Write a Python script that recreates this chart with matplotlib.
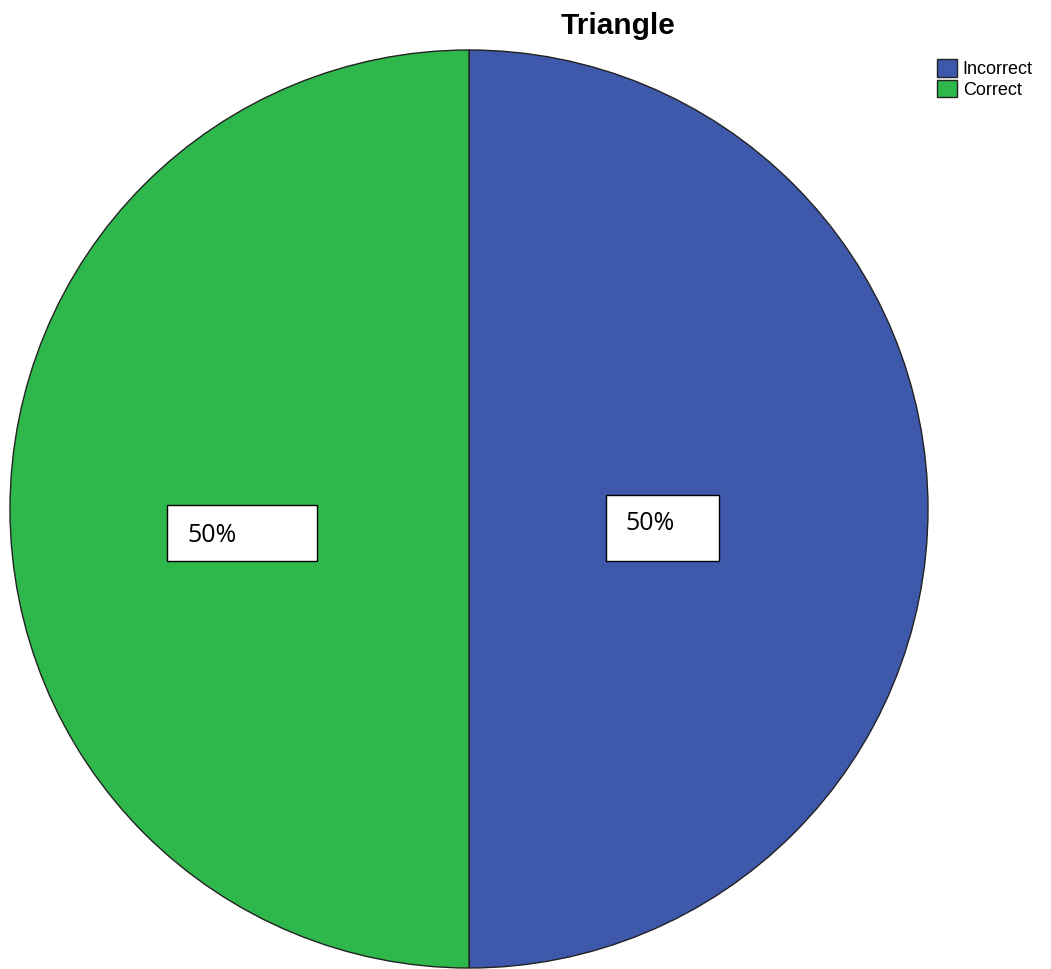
import matplotlib.pyplot as plt
from matplotlib.patches import Rectangle

# Response breakdown for the triangle item
categories = ["Incorrect", "Correct"]
shares = [50, 50]
colors = ["#3e58ac", "#2eb84b"]

W, H = 1051, 969
fig = plt.figure(figsize=(W / 100, H / 100), dpi=100)
ax = fig.add_axes([0, 0, 1, 1])

# pie laid out in pixel units (y measured from the bottom)
cx, cy, r = 469, H - 509, 459
wedges, _ = ax.pie(shares, colors=colors, startangle=90, counterclock=False,
                   center=(cx, cy), radius=r,
                   wedgeprops=dict(edgecolor="#222222", linewidth=1.0))
ax.set_xlim(0, W)
ax.set_ylim(0, H)
ax.set_aspect("auto")
ax.axis("off")

# white label boxes with the percentage, SPSS style
boxes = [(606, 495, 113, 66, 625, 524),   # Incorrect
         (167, 505, 150, 56, 187, 536)]   # Correct
total = sum(shares)
for val, (bx, by, bw, bh, tx, ty) in zip(shares, boxes):
    ax.add_patch(Rectangle((bx, H - by - bh), bw, bh, facecolor="white",
                           edgecolor="black", linewidth=1.0, zorder=3))
    ax.text(tx, H - ty, f"{val / total * 100:.0f}%", fontsize=18,
            family=["Open Sans", "DejaVu Sans"], va="center", ha="left", zorder=4)

ax.text(618, H - 26, "Triangle", fontsize=21.5, fontweight="bold",
        family=["Liberation Sans", "DejaVu Sans"], ha="center", va="center")

leg = fig.legend(wedges, categories, loc="upper left",
                 bbox_to_anchor=(924 / W, 1 - 46 / H), frameon=False,
                 prop={"family": ["Liberation Sans Narrow", "Liberation Sans"], "size": 13},
                 handlelength=1.15, handleheight=1.15, handletextpad=0.3,
                 labelspacing=0.1, borderpad=0.2)

fig.savefig("out.png", dpi=100)
